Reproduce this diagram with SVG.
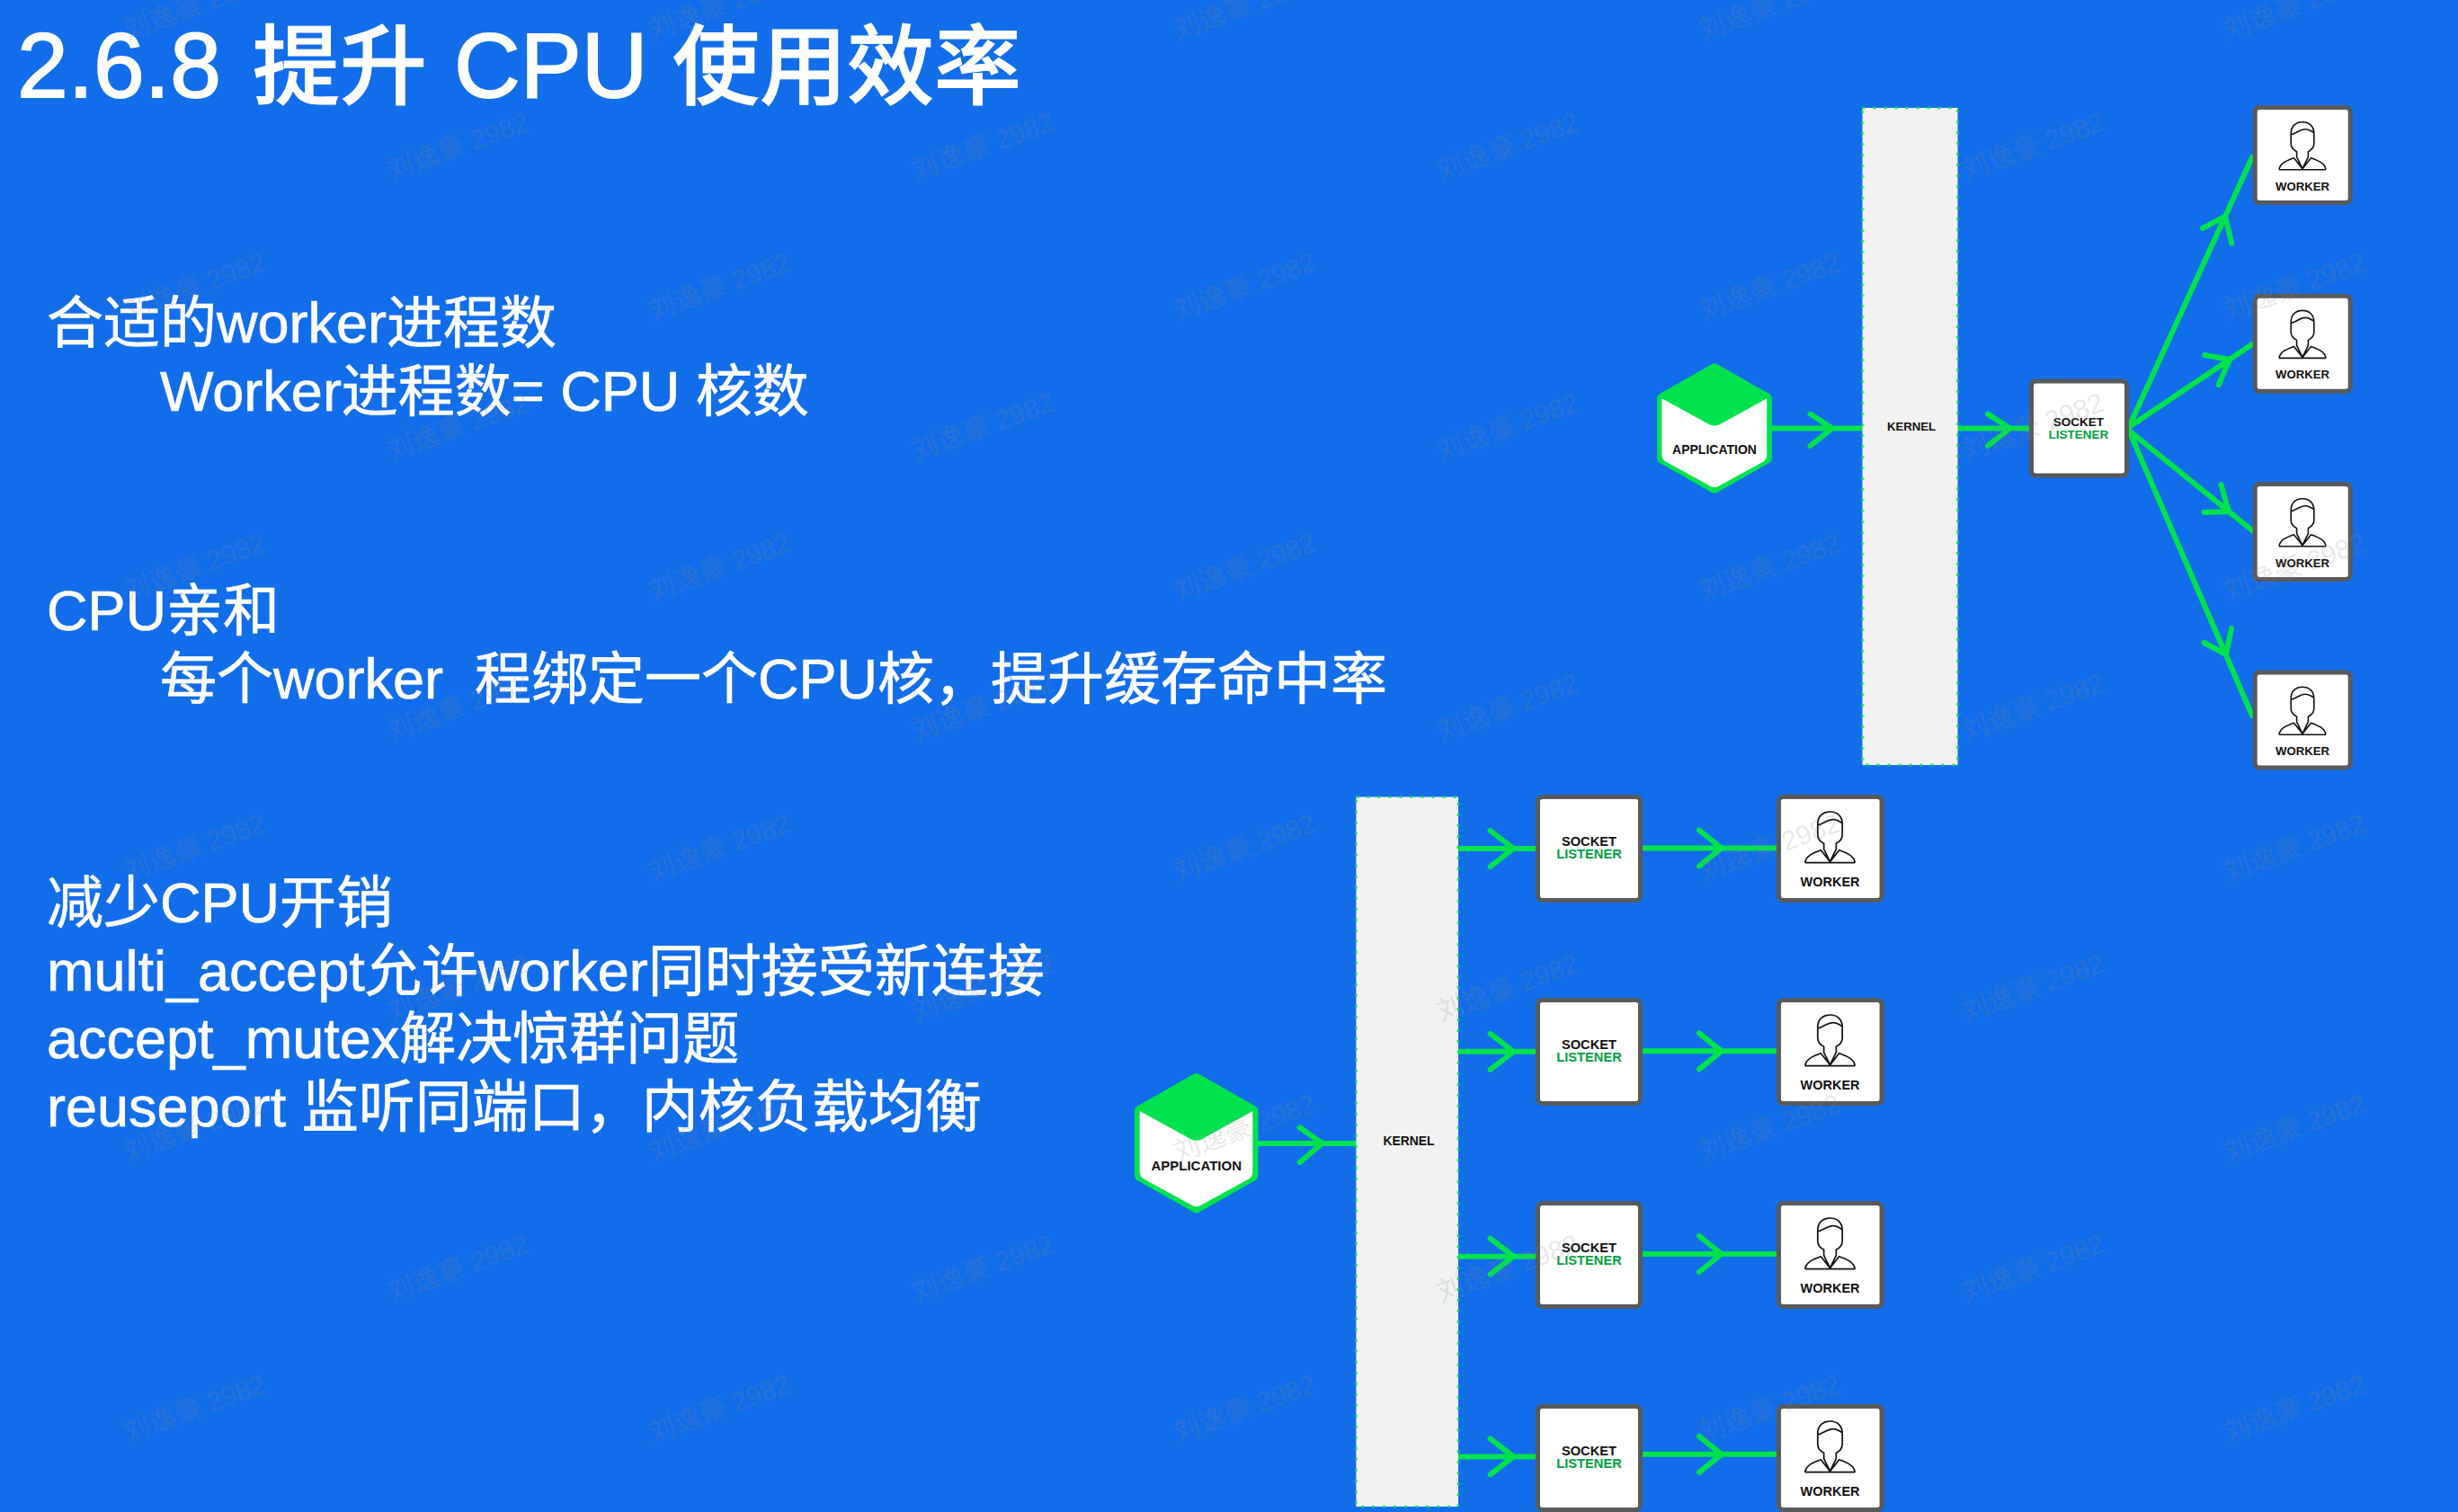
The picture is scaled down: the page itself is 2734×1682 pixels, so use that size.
<svg xmlns="http://www.w3.org/2000/svg" width="2734" height="1682" viewBox="0 0 2734 1682">
<style>
.t{font-family:"Liberation Sans","Noto Sans CJK SC",sans-serif;fill:#fff;stroke:#fff;white-space:pre}
.h{font-size:97px;font-weight:500;stroke-width:1}
.n{font-size:102px;stroke-width:1.8}
.b{font-size:63px;stroke-width:.7}
.c{fill:none;stroke:#00e34e;stroke-width:6;stroke-linecap:round;stroke-linejoin:round}
.box{fill:#fff;stroke:#58595b;stroke-width:5}
.k{fill:#f2f2f2;stroke:#00e34e;stroke-width:2.5;stroke-dasharray:3 9}
.l{font-family:"Liberation Sans","Noto Sans",sans-serif;font-weight:700;fill:#111;text-anchor:middle}
.g{fill:#00a142}
.p{fill:none;stroke:#111;stroke-width:1.6;stroke-linejoin:round}
.w{font-family:"Liberation Sans","Noto Sans CJK SC",sans-serif;font-size:30px;fill:#888;fill-opacity:.2;text-anchor:middle}
</style>
<defs>
<g id="person"><path class="p" d="M-12.8 13C-12.8 4-7 0 0 0C7 0 12.8 4 12.8 13L12.8 24C12.8 28 10 31 6.4 33L6.4 39L0 52L-6.4 39L-6.4 33C-10 31-12.8 28-12.8 24ZM-12.8 14C-7 13-3 8 3 8C7 8 10 10 12.8 12M-26 53L26 53M-26 53C-25 46-18 43-9.5 40L0 52L9.5 40C18 43 25 46 26 53"/></g>
<g id="hex">
<polygon points="0,-71.7 62.7,-36 62.7,36 0,71.7 -62.7,36 -62.7,-36" fill="#00e34e" stroke="#00e34e" stroke-width="12" stroke-linejoin="round"/>
<path fill="#fff" d="M-63 -35.7L-6 -4.5Q0 -1.5 6 -4.5L62.6 -35.7L62.6 32Q62.6 37.5 58 40L4 69.5Q0 71.5-4 69.5L-58 40Q-63 37.5-63 32Z"/>
</g>
</defs>
<rect width="2734" height="1682" fill="#126dea"/>
<g id="texts">
<text class="t h" y="108"><tspan class="n" x="19">2.6.8</tspan><tspan x="281">提升</tspan><tspan x="505" class="n" font-size="98">CPU</tspan><tspan x="748">使用效率</tspan></text>
<text class="t b" x="52" y="381">合适的worker进程数</text>
<text class="t b" x="178" y="457">Worker进程数= CPU 核数</text>
<text class="t b" x="52" y="701">CPU亲和</text>
<text class="t b" x="178" y="777">每个worker  程绑定一个CPU核，提升缓存命中率</text>
<text class="t b" x="52" y="1026">减少CPU开销</text>
<text class="t b" x="52" y="1102">multi_accept允许worker同时接受新连接</text>
<text class="t b" x="52" y="1177">accept_mutex解决惊群问题</text>
<text class="t b" x="52" y="1253">reuseport 监听同端口，内核负载均衡</text>
</g>
<g id="connectors">
<path class="c" d="M1971 476.5H2071M2013.5 460.6L2038 476.5L2013.5 496"/>
<path class="c" d="M2178 476.5H2257M2211 460.6L2236 476.5L2211 496"/>
<path class="c" d="M2368 475L2505 175M2450 254L2475 240.6L2482.3 270.7"/>
<path class="c" d="M2368 475L2505 383M2452.3 395L2480 400L2467.7 428"/>
<path class="c" d="M2368 479L2505 590M2470.4 539L2479 569L2451.5 570"/>
<path class="c" d="M2368 479L2505 796M2482 699L2476 728L2451.5 715"/>
<g transform="translate(0 1)">
<path class="c" d="M1399 1271H1508M1445.7 1253.3L1470.7 1271L1445.7 1292"/>
<path class="c" d="M1622 943H1708M1657.6 923L1683.5 943L1657.6 963"/>
<path class="c" d="M1622 1168.8H1708M1657.6 1148.8L1683.5 1168.8L1657.6 1188.8"/>
<path class="c" d="M1622 1396.7H1708M1657.6 1376.7L1683.5 1396.7L1657.6 1416.7"/>
<path class="c" d="M1622 1619.4H1708M1657.6 1599.4L1683.5 1619.4L1657.6 1639.4"/>
<path class="c" d="M1827 942.5H1976M1890 922.5L1914.8 942.5L1890 962.5"/>
<path class="c" d="M1827 1168.3H1976M1890 1148.3L1914.8 1168.3L1890 1188.3"/>
<path class="c" d="M1827 1394H1976M1890 1374L1914.8 1394L1890 1414"/>
<path class="c" d="M1827 1616.8H1976M1890 1596.8L1914.8 1616.8L1890 1636.8"/>
</g>
</g>
<g id="app-top"><use href="#hex" transform="translate(1907 476.5) scale(.93)"/><text class="l" x="1907" y="505" font-size="14">APPLICATION</text></g>
<g id="kernel-top"><rect class="k" x="2071.5" y="120" width="106" height="731"/><text class="l" x="2126" y="479" font-size="13.2">KERNEL</text></g>
<g id="socket-top" transform="translate(2257 421.5)"><rect class="box" x="2.5" y="2.5" width="106" height="105" rx="5"/><text class="l" x="55" y="52" font-size="13.5">SOCKET</text><text class="l g" x="55" y="66" font-size="13.5">LISTENER</text></g>
<g id="worker-t1" transform="translate(2505.7 117)"><rect class="box" x="2.5" y="2.5" width="106" height="106" rx="5"/><use href="#person" x="55.3" y="18.7"/><text class="l" x="55.3" y="94.7" font-size="13.2">WORKER</text></g>
<g id="worker-t2" transform="translate(2505.7 326.7)"><rect class="box" x="2.5" y="2.5" width="106" height="106" rx="5"/><use href="#person" x="55.3" y="18.7"/><text class="l" x="55.3" y="94.7" font-size="13.2">WORKER</text></g>
<g id="worker-t3" transform="translate(2505.7 536)"><rect class="box" x="2.5" y="2.5" width="106" height="106" rx="5"/><use href="#person" x="55.3" y="18.7"/><text class="l" x="55.3" y="94.7" font-size="13.2">WORKER</text></g>
<g id="worker-t4" transform="translate(2505.7 745.5)"><rect class="box" x="2.5" y="2.5" width="106" height="106" rx="5"/><use href="#person" x="55.3" y="18.7"/><text class="l" x="55.3" y="94.7" font-size="13.2">WORKER</text></g>
<g id="app-bottom"><use href="#hex" transform="translate(1330.7 1271.7)"/><text class="l" x="1330.7" y="1302" font-size="15">APPLICATION</text></g>
<g id="kernel-bottom"><rect class="k" x="1508.4" y="886.5" width="113.6" height="789.5"/><text class="l" x="1567" y="1274" font-size="13.9">KERNEL</text></g>
<g id="socket-b1" transform="translate(1708 884)"><rect class="box" x="2.5" y="2.5" width="114" height="115" rx="5"/><text class="l" x="59.5" y="57" font-size="14.7">SOCKET</text><text class="l g" x="59.5" y="71.4" font-size="14.7">LISTENER</text></g>
<g id="socket-b2" transform="translate(1708 1110)"><rect class="box" x="2.5" y="2.5" width="114" height="115" rx="5"/><text class="l" x="59.5" y="57" font-size="14.7">SOCKET</text><text class="l g" x="59.5" y="71.4" font-size="14.7">LISTENER</text></g>
<g id="socket-b3" transform="translate(1708 1336)"><rect class="box" x="2.5" y="2.5" width="114" height="115" rx="5"/><text class="l" x="59.5" y="57" font-size="14.7">SOCKET</text><text class="l g" x="59.5" y="71.4" font-size="14.7">LISTENER</text></g>
<g id="socket-b4" transform="translate(1708 1562)"><rect class="box" x="2.5" y="2.5" width="114" height="115" rx="5"/><text class="l" x="59.5" y="57" font-size="14.7">SOCKET</text><text class="l g" x="59.5" y="71.4" font-size="14.7">LISTENER</text></g>
<g id="worker-b1" transform="translate(1976 884)"><rect class="box" x="2.5" y="2.5" width="114.6" height="115" rx="5"/><use href="#person" transform="translate(59.5 19) scale(1.07)"/><text class="l" x="59.5" y="102" font-size="14.5">WORKER</text></g>
<g id="worker-b2" transform="translate(1976 1110)"><rect class="box" x="2.5" y="2.5" width="114.6" height="115" rx="5"/><use href="#person" transform="translate(59.5 19) scale(1.07)"/><text class="l" x="59.5" y="102" font-size="14.5">WORKER</text></g>
<g id="worker-b3" transform="translate(1976 1336)"><rect class="box" x="2.5" y="2.5" width="114.6" height="115" rx="5"/><use href="#person" transform="translate(59.5 19) scale(1.07)"/><text class="l" x="59.5" y="102" font-size="14.5">WORKER</text></g>
<g id="worker-b4" transform="translate(1976 1562)"><rect class="box" x="2.5" y="2.5" width="114.6" height="115" rx="5"/><use href="#person" transform="translate(59.5 19) scale(1.07)"/><text class="l" x="59.5" y="102" font-size="14.5">WORKER</text></g>
<g id="watermarks">
<text class="w" transform="translate(216 7) rotate(-20)" y="10">刘逸豪 2982</text><text class="w" transform="translate(800 7) rotate(-20)" y="10">刘逸豪 2982</text><text class="w" transform="translate(1384 7) rotate(-20)" y="10">刘逸豪 2982</text><text class="w" transform="translate(1968 7) rotate(-20)" y="10">刘逸豪 2982</text><text class="w" transform="translate(2552 7) rotate(-20)" y="10">刘逸豪 2982</text>
<text class="w" transform="translate(509 163) rotate(-20)" y="10">刘逸豪 2982</text><text class="w" transform="translate(1093 163) rotate(-20)" y="10">刘逸豪 2982</text><text class="w" transform="translate(1677 163) rotate(-20)" y="10">刘逸豪 2982</text><text class="w" transform="translate(2261 163) rotate(-20)" y="10">刘逸豪 2982</text>
<text class="w" transform="translate(216 319) rotate(-20)" y="10">刘逸豪 2982</text><text class="w" transform="translate(800 319) rotate(-20)" y="10">刘逸豪 2982</text><text class="w" transform="translate(1384 319) rotate(-20)" y="10">刘逸豪 2982</text><text class="w" transform="translate(1968 319) rotate(-20)" y="10">刘逸豪 2982</text><text class="w" transform="translate(2552 319) rotate(-20)" y="10">刘逸豪 2982</text>
<text class="w" transform="translate(509 475) rotate(-20)" y="10">刘逸豪 2982</text><text class="w" transform="translate(1093 475) rotate(-20)" y="10">刘逸豪 2982</text><text class="w" transform="translate(1677 475) rotate(-20)" y="10">刘逸豪 2982</text><text class="w" transform="translate(2261 475) rotate(-20)" y="10">刘逸豪 2982</text>
<text class="w" transform="translate(216 631) rotate(-20)" y="10">刘逸豪 2982</text><text class="w" transform="translate(800 631) rotate(-20)" y="10">刘逸豪 2982</text><text class="w" transform="translate(1384 631) rotate(-20)" y="10">刘逸豪 2982</text><text class="w" transform="translate(1968 631) rotate(-20)" y="10">刘逸豪 2982</text><text class="w" transform="translate(2552 631) rotate(-20)" y="10">刘逸豪 2982</text>
<text class="w" transform="translate(509 787) rotate(-20)" y="10">刘逸豪 2982</text><text class="w" transform="translate(1093 787) rotate(-20)" y="10">刘逸豪 2982</text><text class="w" transform="translate(1677 787) rotate(-20)" y="10">刘逸豪 2982</text><text class="w" transform="translate(2261 787) rotate(-20)" y="10">刘逸豪 2982</text>
<text class="w" transform="translate(216 943) rotate(-20)" y="10">刘逸豪 2982</text><text class="w" transform="translate(800 943) rotate(-20)" y="10">刘逸豪 2982</text><text class="w" transform="translate(1384 943) rotate(-20)" y="10">刘逸豪 2982</text><text class="w" transform="translate(1968 943) rotate(-20)" y="10">刘逸豪 2982</text><text class="w" transform="translate(2552 943) rotate(-20)" y="10">刘逸豪 2982</text>
<text class="w" transform="translate(509 1099) rotate(-20)" y="10">刘逸豪 2982</text><text class="w" transform="translate(1093 1099) rotate(-20)" y="10">刘逸豪 2982</text><text class="w" transform="translate(1677 1099) rotate(-20)" y="10">刘逸豪 2982</text><text class="w" transform="translate(2261 1099) rotate(-20)" y="10">刘逸豪 2982</text>
<text class="w" transform="translate(216 1255) rotate(-20)" y="10">刘逸豪 2982</text><text class="w" transform="translate(800 1255) rotate(-20)" y="10">刘逸豪 2982</text><text class="w" transform="translate(1384 1255) rotate(-20)" y="10">刘逸豪 2982</text><text class="w" transform="translate(1968 1255) rotate(-20)" y="10">刘逸豪 2982</text><text class="w" transform="translate(2552 1255) rotate(-20)" y="10">刘逸豪 2982</text>
<text class="w" transform="translate(509 1411) rotate(-20)" y="10">刘逸豪 2982</text><text class="w" transform="translate(1093 1411) rotate(-20)" y="10">刘逸豪 2982</text><text class="w" transform="translate(1677 1411) rotate(-20)" y="10">刘逸豪 2982</text><text class="w" transform="translate(2261 1411) rotate(-20)" y="10">刘逸豪 2982</text>
<text class="w" transform="translate(216 1567) rotate(-20)" y="10">刘逸豪 2982</text><text class="w" transform="translate(800 1567) rotate(-20)" y="10">刘逸豪 2982</text><text class="w" transform="translate(1384 1567) rotate(-20)" y="10">刘逸豪 2982</text><text class="w" transform="translate(1968 1567) rotate(-20)" y="10">刘逸豪 2982</text><text class="w" transform="translate(2552 1567) rotate(-20)" y="10">刘逸豪 2982</text>
</g>
</svg>
